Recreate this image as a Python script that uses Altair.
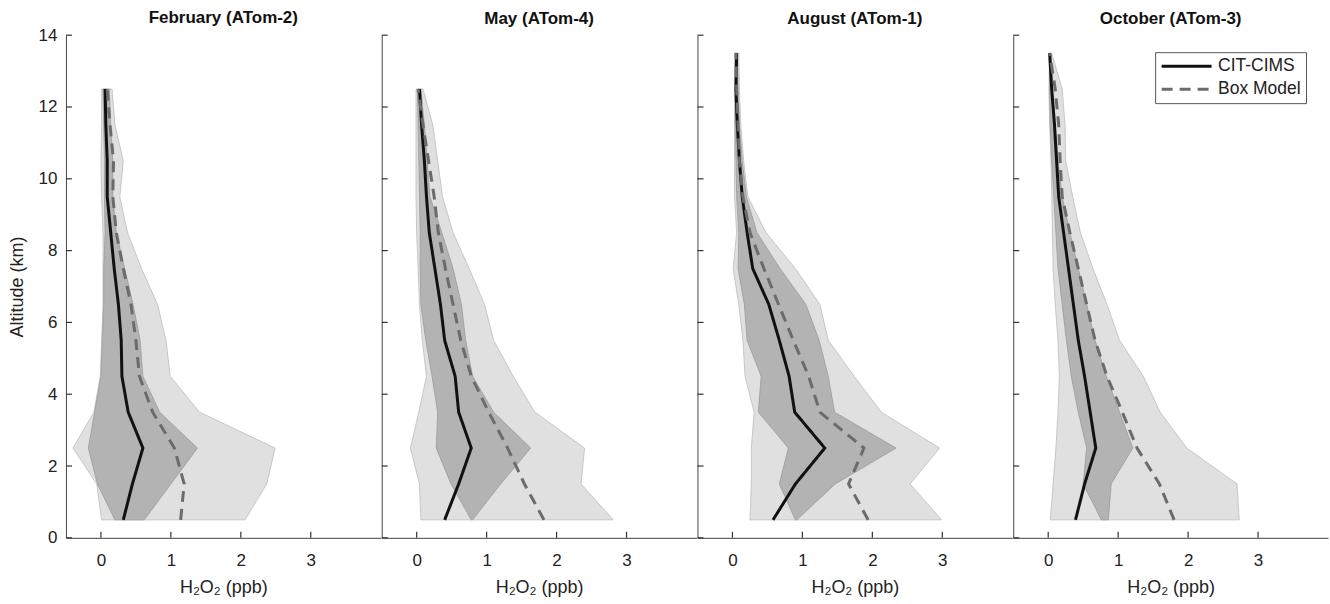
import altair as alt
import pandas as pd

FONT = "Liberation Sans"

months = ["February (ATom-2)", "May (ATom-4)", "August (ATom-1)", "October (ATom-3)"]

alt_13 = [0.5, 1.5, 2.5, 3.5, 4.5, 5.5, 6.5, 7.5, 8.5, 9.5, 10.5, 11.5, 12.5]
alt_14 = alt_13 + [13.5]

# February (ATom-2)
feb_cit = [0.32, 0.45, 0.60, 0.39, 0.30, 0.29, 0.25, 0.19, 0.14, 0.09, 0.09, 0.07, 0.06]
feb_box = [1.14, 1.19, 1.05, 0.74, 0.55, 0.50, 0.43, 0.32, 0.22, 0.17, 0.18, 0.13, 0.09]
feb_olo = [0.01, -0.06, -0.40, -0.10, -0.01, 0.01, 0.03, 0.03, 0.03, 0.01, 0.00, 0.01, 0.01]
feb_ohi = [2.06, 2.37, 2.49, 1.41, 0.99, 0.93, 0.81, 0.58, 0.38, 0.27, 0.32, 0.20, 0.16]
feb_ilo = [0.20, -0.05, -0.18, -0.09, 0.00, 0.02, 0.04, 0.04, 0.06, 0.05, 0.05, 0.04, 0.03]
feb_ihi = [0.62, 1.00, 1.38, 0.84, 0.60, 0.56, 0.46, 0.34, 0.22, 0.17, 0.17, 0.14, 0.12]

# May (ATom-4)
may_cit = [0.40, 0.60, 0.78, 0.60, 0.55, 0.40, 0.34, 0.26, 0.18, 0.14, 0.11, 0.07, 0.04]
may_box = [1.82, 1.54, 1.30, 1.03, 0.78, 0.63, 0.52, 0.41, 0.31, 0.25, 0.17, 0.09, 0.02]
may_olo = [0.06, 0.04, -0.09, 0.03, 0.14, 0.08, 0.04, 0.02, 0.00, -0.01, -0.01, -0.01, -0.01]
may_ohi = [2.81, 2.35, 2.40, 1.69, 1.38, 1.10, 0.97, 0.75, 0.52, 0.37, 0.30, 0.23, 0.09]
may_ilo = [0.78, 0.49, 0.28, 0.30, 0.22, 0.13, 0.06, 0.05, 0.05, 0.04, 0.03, 0.02, 0.01]
may_ihi = [0.80, 1.20, 1.63, 1.10, 0.80, 0.70, 0.64, 0.52, 0.36, 0.19, 0.15, 0.11, 0.06]

# August (ATom-1)
aug_cit = [0.58, 0.90, 1.32, 0.89, 0.81, 0.67, 0.52, 0.29, 0.21, 0.14, 0.10, 0.07, 0.05, 0.06]
aug_box = [1.94, 1.66, 1.88, 1.25, 1.09, 0.87, 0.66, 0.45, 0.25, 0.15, 0.10, 0.08, 0.06, 0.05]
aug_olo = [0.25, 0.27, 0.27, 0.31, 0.18, 0.15, 0.09, 0.01, 0.06, 0.03, 0.03, 0.03, 0.03, 0.03]
aug_ohi = [2.99, 2.54, 2.96, 2.13, 1.74, 1.37, 1.25, 0.90, 0.48, 0.22, 0.16, 0.12, 0.10, 0.09]
aug_ilo = [0.90, 0.67, 0.80, 0.37, 0.41, 0.21, 0.17, 0.08, 0.09, 0.06, 0.05, 0.04, 0.04, 0.04]
aug_ihi = [0.92, 1.47, 2.34, 1.46, 1.37, 1.24, 1.05, 0.68, 0.35, 0.20, 0.14, 0.10, 0.08, 0.07]

# October (ATom-3)
oct_cit = [0.39, 0.52, 0.68, 0.60, 0.52, 0.43, 0.36, 0.29, 0.22, 0.15, 0.12, 0.09, 0.05, 0.02]
oct_box = [1.80, 1.59, 1.27, 1.06, 0.84, 0.67, 0.55, 0.43, 0.31, 0.20, 0.17, 0.15, 0.10, 0.02]
oct_olo = [0.03, 0.07, 0.11, 0.14, 0.16, 0.14, 0.10, 0.07, 0.06, 0.05, 0.04, 0.02, 0.01, 0.02]
oct_ohi = [2.73, 2.70, 1.98, 1.60, 1.36, 1.02, 0.84, 0.64, 0.46, 0.35, 0.25, 0.24, 0.20, 0.05]
oct_ilo = [0.76, 0.50, 0.55, 0.43, 0.33, 0.26, 0.20, 0.14, 0.11, 0.08, 0.05, 0.03, 0.02, 0.02]
oct_ihi = [0.86, 0.90, 1.21, 1.02, 0.83, 0.67, 0.55, 0.43, 0.31, 0.20, 0.14, 0.10, 0.06, 0.04]

y_ticks = [0, 2, 4, 6, 8, 10, 12, 14]
x_ticks = [0, 1, 2, 3]
series_names = ["CIT-CIMS", "Box Model"]

panels = [
    (months[0], alt_13, feb_cit, feb_box, feb_olo, feb_ohi, feb_ilo, feb_ihi),
    (months[1], alt_13, may_cit, may_box, may_olo, may_ohi, may_ilo, may_ihi),
    (months[2], alt_14, aug_cit, aug_box, aug_olo, aug_ohi, aug_ilo, aug_ihi),
    (months[3], alt_14, oct_cit, oct_box, oct_olo, oct_ohi, oct_ilo, oct_ihi),
]

W, H = 315, 503
xscale = alt.Scale(domain=[-0.5, 4], nice=False, zero=False)
yscale = alt.Scale(domain=[0, 14], nice=False, zero=False)

ytick_df = pd.DataFrame({"t": y_ticks})
xtick_df = pd.DataFrame({"t": x_ticks})

charts = []
for i, (title, alts, cit, box, olo, ohi, ilo, ihi) in enumerate(panels):
    band_df = pd.DataFrame({"alt": alts, "olo": olo, "ohi": ohi, "ilo": ilo, "ihi": ihi})
    line_df = pd.concat([
        pd.DataFrame({"alt": alts, "value": cit, "series": series_names[0]}),
        pd.DataFrame({"alt": alts, "value": box, "series": series_names[1]}),
    ])
    yaxis = alt.Axis(
        values=y_ticks, labels=(i == 0), ticks=False, grid=False,
        title="Altitude (km)" if i == 0 else "",
        domainColor="#444", domainWidth=1, labelFont=FONT, labelFontSize=17,
        labelColor="#222", labelPadding=9, titleFont=FONT, titleFontSize=18,
        titleFontWeight="normal", titleColor="#222", titlePadding=12,
    )
    xaxis = alt.Axis(
        values=x_ticks, ticks=False, grid=False, title="H\u2082O\u2082 (ppb)",
        domainColor="#444", domainWidth=1, labelFont=FONT, labelFontSize=17,
        labelColor="#222", labelPadding=15, titleFont=FONT, titleFontSize=18,
        titleFontWeight="normal", titleColor="#222", titlePadding=10,
    )
    Y = lambda f: alt.Y(f, scale=yscale, axis=yaxis)
    X = lambda f: alt.X(f, scale=xscale, axis=xaxis)

    outer = alt.Chart(band_df).mark_area(
        orient="horizontal", color="#e0e0e0", stroke="#bcbcbc", strokeWidth=0.8
    ).encode(y=Y("alt:Q"), x=X("olo:Q"), x2="ohi:Q")
    inner = alt.Chart(band_df).mark_area(
        orient="horizontal", color="#b3b3b3", stroke="#9a9a9a", strokeWidth=0.8
    ).encode(y=Y("alt:Q"), x=X("ilo:Q"), x2="ihi:Q")
    lines = alt.Chart(line_df).mark_line(strokeWidth=3.0, strokeCap="butt").encode(
        y=Y("alt:Q"),
        x=X("value:Q"),
        order=alt.Order("alt:Q"),
        color=alt.Color(
            "series:N",
            scale=alt.Scale(domain=series_names, range=["#111111", "#6b6b6b"]),
            legend=alt.Legend(title=None),
        ),
        strokeDash=alt.StrokeDash(
            "series:N",
            scale=alt.Scale(domain=series_names, range=[[1, 0], [11, 7]]),
            legend=alt.Legend(title=None),
        ),
    )
    yt = alt.Chart(ytick_df).mark_rule(color="#333", strokeWidth=1.2).encode(
        y=Y("t:Q"), x=alt.value(0), x2=alt.value(6)
    )
    xt = alt.Chart(xtick_df).mark_rule(color="#333", strokeWidth=1.2).encode(
        x=X("t:Q"), y=alt.value(H), y2=alt.value(H - 6)
    )
    ch = alt.layer(outer, inner, lines, yt, xt).properties(
        width=W, height=H,
        title=alt.TitleParams(title, font=FONT, fontSize=17, fontWeight="bold",
                              color="#111", anchor="middle",
                              offset=(-1 if i == 0 else 7)),
    )
    charts.append(ch)

chart = alt.hconcat(*charts, spacing=0).resolve_scale(
    color="shared", strokeDash="shared"
).properties(
    padding={"left": 8, "top": 9, "right": 2, "bottom": 2},
    background="white",
).configure_view(stroke=None).configure_legend(
    orient="none", legendX=1090, legendY=17,
    fillColor="white", strokeColor="#555", padding=5,
    symbolType="stroke", symbolSize=2500, symbolStrokeWidth=3.0,
    labelFont=FONT, labelFontSize=17.5, labelColor="#222", rowPadding=5,
    labelOffset=5, clipHeight=18,
)

chart.save("out.html", embed_options={"renderer": "svg", "actions": False})
